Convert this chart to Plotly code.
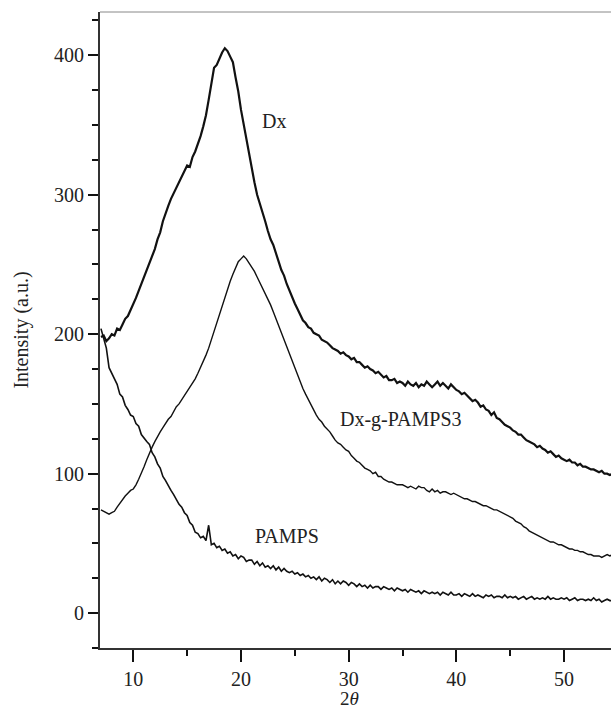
import plotly.graph_objects as go

two_theta = [round(7 + 0.25 * i, 2) for i in range(191)]

dx = [
    198, 199, 195, 197,
    200, 199, 204, 203,
    207, 211, 213, 217,
    221, 226, 231, 236,
    241, 247, 251, 257,
    261, 268, 273, 281,
    287, 292, 297, 301,
    304, 308, 312, 317,
    321, 320, 327, 331,
    336, 342, 349, 357,
    368, 380, 391, 393,
    398, 402, 405, 403,
    399, 395, 384, 374,
    361, 350, 340, 330,
    318, 309, 300, 294,
    287, 281, 274, 268,
    264, 257, 252, 246,
    242, 236, 231, 227,
    222, 218, 214, 210,
    208, 205, 204, 201,
    200, 199, 196, 195,
    194, 192, 190, 189,
    188, 186, 187, 185,
    184, 182, 183, 180,
    180, 178, 176, 177,
    175, 174, 172, 173,
    171, 169, 170, 167,
    167, 168, 165, 166,
    165, 163, 166, 164,
    163, 165, 162, 164,
    163, 166, 164, 162,
    164, 166, 163, 165,
    163, 161, 164, 162,
    160, 159, 157, 158,
    156, 154, 152, 153,
    151, 148, 149, 146,
    145, 142, 144, 140,
    139, 137, 135, 134,
    133, 131, 130, 128,
    128, 126, 124, 123,
    122, 121, 119, 120,
    118, 117, 115, 116,
    114, 112, 113, 111,
    110, 109, 110, 108,
    108, 106, 107, 105,
    105, 104, 103, 103,
    102, 101, 102, 100,
    100, 99, 100,
]

dx_g_pamps3 = [
    74, 73, 72, 71,
    72, 73, 76, 79,
    82, 84, 86, 88,
    89, 92, 96, 100,
    105, 110, 115, 119,
    123, 127, 130, 133,
    136, 139, 141, 145,
    148, 150, 153, 156,
    159, 162, 165, 168,
    172, 176, 180, 185,
    190, 196, 203, 209,
    215, 221, 227, 233,
    238, 243, 248, 252,
    254, 256, 254, 251,
    248, 245, 241, 237,
    234, 230, 226, 221,
    216, 211, 206, 200,
    195, 190, 185, 180,
    175, 170, 166, 161,
    157, 153, 149, 146,
    142, 139, 137, 134,
    132, 130, 127, 124,
    122, 121, 119, 117,
    116, 113, 111, 109,
    108, 106, 104, 103,
    102, 100, 101, 98,
    98, 96, 95, 94,
    94, 93, 92, 92,
    92, 91, 90, 91,
    90, 89, 91, 90,
    90, 88, 87, 89,
    87, 88, 86, 87,
    87, 86, 85, 86,
    85, 84, 83, 82,
    82, 81, 80, 80,
    79, 78, 77, 77,
    76, 75, 74, 74,
    73, 72, 71, 70,
    69, 68, 66, 65,
    64, 62, 61, 59,
    58, 57, 56, 55,
    54, 53, 52, 51,
    51, 50, 49, 49,
    48, 47, 46, 46,
    45, 45, 44, 44,
    43, 42, 42, 41,
    41, 41, 40, 41,
    42, 41, 42,
]

pamps = [
    204, 196, 190, 176,
    172, 167, 164, 157,
    155, 149, 146, 142,
    141, 136, 134, 128,
    125, 123, 121, 115,
    112, 107, 104, 98,
    95, 91, 88, 85,
    82, 78, 76, 72,
    70, 65, 63, 58,
    57, 54, 55, 52,
    63, 49, 50, 47,
    48, 45, 46, 43,
    44, 41, 42, 39,
    41, 40, 37, 38,
    38, 35, 37, 34,
    36, 33, 34, 32,
    34, 31, 33, 30,
    32, 30, 29, 30,
    28, 29, 27, 28,
    26, 27, 25, 26,
    24, 26, 23, 25,
    24, 22, 24, 21,
    23, 21, 23, 22,
    20, 22, 21, 19,
    21, 19, 20, 18,
    20, 18, 19, 19,
    17, 19, 18, 17,
    18, 16, 18, 17,
    16, 17, 15, 17,
    16, 15, 16, 14,
    16, 15, 14, 15,
    14, 15, 13, 15,
    14, 13, 15, 13,
    13, 14, 12, 14,
    13, 12, 14, 12,
    13, 12, 11, 13,
    12, 13, 11, 12,
    12, 11, 13, 11,
    12, 11, 12, 10,
    11, 12, 10, 11,
    12, 10, 11, 10,
    11, 10, 12, 10,
    11, 10, 10, 11,
    10, 11, 9, 10,
    11, 9, 10, 10,
    9, 10, 9, 11,
    9, 10, 8, 9,
    10, 9, 9,
]

labels = ["Dx", "Dx-g-PAMPS3", "PAMPS"]
label_x = [23.1, 34.9, 24.3]
label_y = [353, 139, 55]

FONT = "Liberation Serif"

fig = go.Figure()
fig.add_trace(go.Scatter(x=two_theta, y=dx, mode="lines",
                         line=dict(color="#111111", width=2.2), showlegend=False))
fig.add_trace(go.Scatter(x=two_theta, y=dx_g_pamps3, mode="lines",
                         line=dict(color="#111111", width=1.4), showlegend=False))
fig.add_trace(go.Scatter(x=two_theta, y=pamps, mode="lines",
                         line=dict(color="#111111", width=1.6), showlegend=False))

for t, ax_, ay_ in zip(labels, label_x, label_y):
    fig.add_annotation(x=ax_, y=ay_, text=t, showarrow=False,
                       font=dict(family=FONT, size=20, color="#222222"))

fig.add_annotation(x=30.1, y=-0.080, xref="x", yref="paper", yanchor="middle",
                   text="2<i>θ</i>", showarrow=False,
                   font=dict(family=FONT, size=19, color="#222222"))

fig.add_shape(type="line", xref="paper", yref="paper", x0=0, x1=1, y0=1, y1=1,
              line=dict(color="#888888", width=1))

fig.update_layout(
    width=611, height=714,
    margin=dict(l=100, r=0, t=12, b=66),
    plot_bgcolor="white", paper_bgcolor="white",
    font=dict(family=FONT, size=18, color="#222222"),
    xaxis=dict(range=[6.91, 54.36], tickvals=[10, 20, 30, 40, 50],
               ticks="outside", ticklen=12, tickwidth=2, tickcolor="#111111",
               showline=True, linecolor="#333333", linewidth=2,
               showgrid=False, zeroline=False,
               minor=dict(tickvals=[15, 25, 35, 45], ticks="outside", ticklen=6,
                          tickwidth=2, tickcolor="#111111", showgrid=False),
               tickfont=dict(family=FONT, size=20)),
    yaxis=dict(range=[-25, 431], tickvals=[0, 100, 200, 300, 400],
               ticks="outside", ticklen=10, tickwidth=2, tickcolor="#111111",
               showline=True, linecolor="#333333", linewidth=2,
               showgrid=False, zeroline=False,
               minor=dict(tickvals=[-25, 25, 50, 75, 125, 150, 175, 225, 250, 275,
                                    325, 350, 375, 425],
                          ticks="outside", ticklen=6, tickwidth=2,
                          tickcolor="#111111", showgrid=False),
               title=dict(text="Intensity (a.u.)", font=dict(family=FONT, size=20),
                          standoff=20),
               tickfont=dict(family=FONT, size=20)),
)

fig.write_html("out.html")
